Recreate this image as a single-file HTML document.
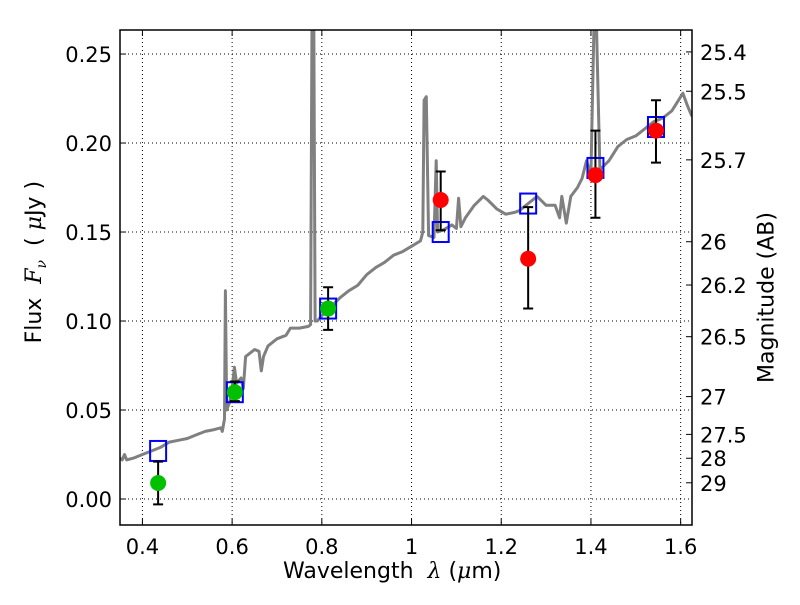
<!DOCTYPE html>
<html><head><meta charset="utf-8"><style>
body{margin:0;background:#fff}
svg{font-family:"DejaVu Sans","Liberation Sans",sans-serif}
</style></head><body>
<svg id="c" width="800" height="600"></svg>
<script>
const specX=[0.35,0.355,0.36,0.365,0.38,0.40,0.42,0.44,0.46,0.48,0.50,0.52,0.54,0.56,0.575,0.578,0.583,0.585,0.588,0.595,0.60,0.605,0.61,0.62,0.625,0.63,0.64,0.65,0.66,0.665,0.67,0.68,0.70,0.72,0.73,0.75,0.77,0.775,0.778,0.782,0.785,0.79,0.80,0.82,0.84,0.86,0.88,0.90,0.92,0.94,0.96,0.98,1.00,1.02,1.025,1.028,1.033,1.038,1.05,1.055,1.058,1.07,1.09,1.10,1.105,1.11,1.12,1.14,1.16,1.17,1.19,1.21,1.23,1.24,1.26,1.28,1.30,1.32,1.33,1.335,1.345,1.355,1.37,1.38,1.39,1.40,1.407,1.412,1.42,1.44,1.46,1.48,1.50,1.52,1.54,1.56,1.58,1.59,1.605,1.615,1.625];
const specY=[0.023,0.022,0.025,0.022,0.023,0.025,0.027,0.029,0.032,0.033,0.034,0.036,0.038,0.039,0.040,0.038,0.045,0.117,0.050,0.055,0.062,0.074,0.065,0.068,0.062,0.080,0.082,0.084,0.083,0.072,0.080,0.086,0.090,0.092,0.096,0.096,0.097,0.098,0.27,0.27,0.100,0.100,0.103,0.108,0.113,0.117,0.120,0.126,0.130,0.133,0.137,0.139,0.142,0.145,0.150,0.224,0.226,0.148,0.147,0.190,0.150,0.151,0.154,0.152,0.169,0.153,0.158,0.165,0.170,0.168,0.163,0.160,0.161,0.162,0.166,0.170,0.165,0.165,0.158,0.170,0.155,0.170,0.175,0.180,0.190,0.182,0.27,0.27,0.185,0.190,0.198,0.202,0.204,0.208,0.212,0.214,0.218,0.222,0.228,0.221,0.215];
const bandX=[0.435,0.606,0.814,1.065,1.26,1.41,1.545];
const modelY=[0.027,0.060,0.107,0.150,0.166,0.186,0.209];
const obsY=[0.009,0.060,0.107,0.168,0.135,0.182,0.207];
const errLo=[0.012,0.005,0.012,0.017,0.028,0.024,0.018];
const errHi=[0.012,0.006,0.012,0.016,0.029,0.025,0.017];
const obsColor=['#00c000','#00c000','#00c000','red','red','red','red'];
const xTicks=[0.4,0.6,0.8,1.0,1.2,1.4,1.6];
const xTickLabels=['0.4','0.6','0.8','1','1.2','1.4','1.6'];
const yTicks=[0,0.05,0.10,0.15,0.20,0.25];
const yTickLabels=['0.00','0.05','0.10','0.15','0.20','0.25'];
const magTicks=[25.4,25.5,25.7,26,26.2,26.5,27,27.5,28,29];

const L=120,R=692,T=30,B=525,x0=0.35,x1=1.6253,y0=-0.0146,y1=0.2635;
const sx=v=>L+(v-x0)/(x1-x0)*(R-L);
const sy=v=>B-(v-y0)/(y1-y0)*(B-T);
const svg=document.getElementById('c');const NS='http://www.w3.org/2000/svg';
function mk(t,a,p){const e=document.createElementNS(NS,t);for(const k in a)e.setAttribute(k,a[k]);(p||svg).appendChild(e);return e;}
const defs=mk('defs',{});const cp=mk('clipPath',{id:'cp'},defs);mk('rect',{x:L,y:T,width:R-L,height:B-T},cp);
const grid=mk('g',{});
xTicks.forEach((t,i)=>{const x=sx(t);
mk('line',{x1:x,x2:x,y1:T,y2:B,stroke:'#000','stroke-dasharray':'1,3','stroke-width':1},grid);
mk('line',{x1:x,x2:x,y1:B,y2:B-6,stroke:'#000'});mk('line',{x1:x,x2:x,y1:T,y2:T+6,stroke:'#000'});
const tx=mk('text',{x:x,y:B+29,'text-anchor':'middle','font-size':21});tx.textContent=xTickLabels[i];
});
yTicks.forEach((t,i)=>{const y=sy(t);
mk('line',{x1:L,x2:R,y1:y,y2:y,stroke:'#000','stroke-dasharray':'1,3','stroke-width':1},grid);
mk('line',{x1:L,x2:L+6,y1:y,y2:y,stroke:'#000'});
const tx=mk('text',{x:L-8,y:y+8,'text-anchor':'end','font-size':21});tx.textContent=yTickLabels[i];
});
magTicks.forEach(m=>{const y=sy(Math.pow(10,(23.9-m)/2.5));
mk('line',{x1:R,x2:R-6,y1:y,y2:y,stroke:'#000'});
const tx=mk('text',{x:R+8,y:y+8,'font-size':21});tx.textContent=String(m);
});
const g=mk('g',{'clip-path':'url(#cp)'});
const sp=mk('path',{d:specX.map((v,i)=>(i?'L':'M')+sx(v).toFixed(1)+','+sy(specY[i]).toFixed(1)).join(''),fill:'none',stroke:'#808080','stroke-width':3,'stroke-linejoin':'round'},g);

bandX.forEach((b,i)=>{const x=sx(b);
const r=mk('rect',{x:x-8,y:sy(modelY[i])-10,width:16,height:20,fill:'none',stroke:'#0000ff','stroke-width':2},g);

const ya=sy(obsY[i]+errHi[i]),yb=sy(obsY[i]-errLo[i]);
const e=mk('path',{d:`M${x},${ya}L${x},${yb}M${x-5},${ya}L${x+5},${ya}M${x-5},${yb}L${x+5},${yb}`,stroke:'#000','stroke-width':2},g);

const c=mk('circle',{cx:x,cy:sy(obsY[i]),r:8,fill:obsColor[i]},g);
});
const fr=mk('rect',{x:L,y:T,width:R-L,height:B-T,fill:'none',stroke:'#000','stroke-width':1.5});

</script>
<div style="position:absolute;left:283px;top:559px;font:22px 'DejaVu Sans',sans-serif">Wavelength &nbsp;<i style="font-family:'DejaVu Serif',serif">λ</i> (<i style="font-family:'DejaVu Serif',serif">μ</i>m)</div>
<div style="position:absolute;left:-64px;top:248px;width:200px;text-align:center;transform:rotate(-90deg);font:22px 'DejaVu Sans',sans-serif;white-space:nowrap">Flux &nbsp;<i style="font-family:'DejaVu Serif',serif">F<sub style="font-size:14px">ν</sub></i> &nbsp;( <i style="font-family:'DejaVu Serif',serif">μ</i>Jy )</div>
<div style="position:absolute;left:667px;top:285px;width:200px;text-align:center;transform:rotate(-90deg);font:22px 'DejaVu Sans',sans-serif;white-space:nowrap">Magnitude (AB)</div>
</body></html>
